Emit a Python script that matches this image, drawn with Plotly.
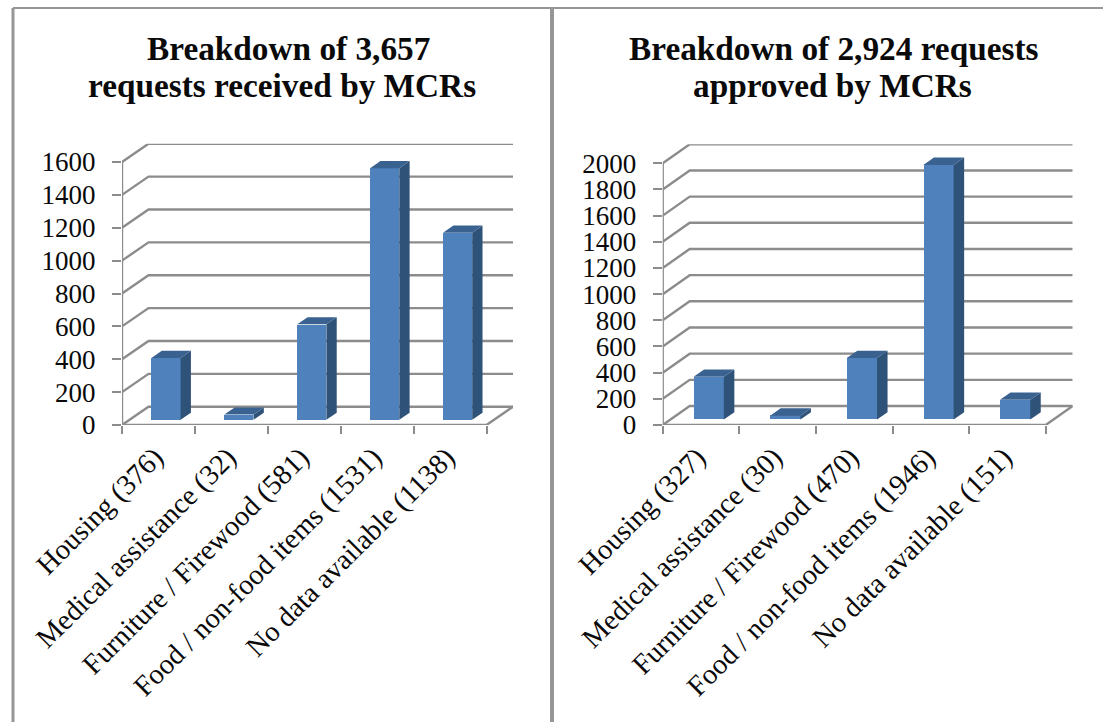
import plotly.graph_objects as go

# Request categories and counts for each panel
categories_received = ["Housing (376)", "Medical assistance (32)", "Furniture / Firewood (581)",
                       "Food / non-food items (1531)", "No data available (1138)"]
values_received = [376, 32, 581, 1531, 1138]
ticks_received = [0, 200, 400, 600, 800, 1000, 1200, 1400, 1600]

categories_approved = ["Housing (327)", "Medical assistance (30)", "Furniture / Firewood (470)",
                       "Food / non-food items (1946)", "No data available (151)"]
values_approved = [327, 30, 470, 1946, 151]
ticks_approved = [0, 200, 400, 600, 800, 1000, 1200, 1400, 1600, 1800, 2000]

title_received = ["Breakdown of 3,657", "requests received by MCRs"]
title_approved = ["Breakdown of 2,924 requests", "approved by MCRs"]

W, H = 1103, 722
FONT = "Liberation Serif"
INK = "#0a0a0a"
GREY = "#8c8c8c"
FRONT, SIDE, TOP = "#4f81bd", "#2f5279", "#3a6291"


def px_x(p):
    return p / W


def px_y(p):
    return 1 - p / H


fig = go.Figure()
layout = dict(
    template="none",
    width=W, height=H, margin=dict(l=0, r=0, t=0, b=0, pad=0, autoexpand=False),
    paper_bgcolor="white", plot_bgcolor="rgba(0,0,0,0)", showlegend=False,
    font=dict(family=FONT, color=INK),
    bargap=0,
)


def panel(cats, vals, ticks, title, title_xs, left, slot, wall_dx, wall_dy, y_top,
          bar_frac, ax_suffixes):
    """Draw one pseudo-3D column panel. left/y_top are the front-plane pixel anchors."""
    base_y = 425
    n = len(cats)
    ymax = ticks[-1]
    ux = 1 / slot                           # categories per pixel
    uy = ymax / (base_y - y_top)            # value units per pixel
    dx, dy = wall_dx * ux, wall_dy * uy     # full floor depth in axis units
    right = left + n * slot + wall_dx
    top = y_top - wall_dy

    xa, ya, xo = ax_suffixes
    xref, yref, xoref = f"x{xa}", f"y{ya}", f"x{xo}"
    layout[f"xaxis{xa}"] = dict(
        domain=[px_x(left), px_x(right)], range=[0, n + dx], anchor=yref, tickmode="array",
        tickvals=list(range(n + 1)), showticklabels=False, ticks="outside", ticklen=8,
        tickwidth=2, tickcolor=GREY, showgrid=False, zeroline=False, showline=False,
        automargin=False,
    )
    layout[f"yaxis{ya}"] = dict(
        domain=[px_y(base_y), px_y(top)], range=[0, ymax + dy], anchor=xref, tickmode="array",
        tickvals=ticks, ticks="outside", ticklen=9, tickwidth=2, tickcolor=GREY,
        showgrid=False, zeroline=False, showline=False, ticklabelstandoff=11, automargin=False,
        tickfont=dict(family=FONT, size=27, color=INK),
    )
    layout[f"xaxis{xo}"] = dict(
        domain=[px_x(left), px_x(right)], range=[0, n + dx], anchor=yref, overlaying=xref,
        tickmode="array", tickvals=[i + 0.45 for i in range(n)], ticktext=cats, tickangle=-45,
        ticks="", showgrid=False, zeroline=False, showline=False, ticklabelstandoff=9,
        automargin=False, tickfont=dict(family=FONT, size=28.5, color=INK),
    )

    line = dict(color=GREY, width=2.4)

    def seg(xs, ys):
        fig.add_trace(go.Scatter(x=xs, y=ys, mode="lines", line=line, xaxis=xref, yaxis=yref,
                                 hoverinfo="skip"))

    # Wall gridlines and side-wall diagonals, one per tick value
    for t in ticks:
        seg([0, dx, n + dx], [t, t + dy, t + dy])
    seg([0, 0], [0, ymax])
    seg([0, n, n + dx], [0, 0, dy])

    # Columns stand part-way back on the floor
    d0, d1 = 0.285, 0.675
    x_off = d0 * dx
    y_off = d0 * dy
    depth_x = (d1 - d0) * dx
    depth_y = (d1 - d0) * dy
    pos = [i + 0.5 + x_off for i in range(n)]
    half = bar_frac / 2
    fig.add_trace(go.Bar(x=pos, y=vals, base=[y_off] * n, width=[bar_frac] * n, xaxis=xoref,
                         yaxis=yref, marker=dict(color=FRONT, line=dict(width=0)),
                         name=title[0]))
    for p, v in zip(pos, vals):
        l, r = p - half, p + half
        b, t = y_off, y_off + v
        fig.add_trace(go.Scatter(
            x=[r, r + depth_x, r + depth_x, r, r], y=[b, b + depth_y, t + depth_y, t, b],
            mode="lines", fill="toself", fillcolor=SIDE, line=dict(width=0), xaxis=xoref,
            yaxis=yref, hoverinfo="skip"))
        fig.add_trace(go.Scatter(
            x=[l, r, r + depth_x, l + depth_x, l], y=[t, t, t + depth_y, t + depth_y, t],
            mode="lines", fill="toself", fillcolor=TOP, line=dict(width=0), xaxis=xoref,
            yaxis=yref, hoverinfo="skip"))

    # Two-line heading, set as separate lines to hold a tight leading
    return [dict(text=txt, x=px_x(tx), y=px_y(base), xref="paper", yref="paper",
                 xanchor="center", yanchor="middle", showarrow=False, align="center",
                 font=dict(family=FONT, size=33.3, color=INK, weight="bold"))
            for txt, tx, base in zip(title, title_xs, (48, 86))]


a1 = panel(categories_received, values_received, ticks_received, title_received, (288, 281.5),
           122, 72.9, 26.5, 18.3, 162, 0.40, ("", "", "3"))
a2 = panel(categories_approved, values_approved, ticks_approved, title_approved, (833.5, 832),
           662.7, 76.6, 27, 19, 163.3, 0.395, ("2", "2", "4"))
layout["annotations"] = a1 + a2

# Table-style rules around the panels
rule = dict(color="#969696", width=2)
layout["shapes"] = [
    dict(type="line", xref="paper", yref="paper", x0=px_x(13), x1=px_x(13), y0=0, y1=px_y(8),
         line=dict(color="#969696", width=3)),
    dict(type="line", xref="paper", yref="paper", x0=px_x(13), x1=1, y0=px_y(8), y1=px_y(8), line=rule),
    dict(type="line", xref="paper", yref="paper", x0=px_x(552), x1=px_x(552), y0=0, y1=px_y(8),
         line=dict(color="#969696", width=4)),
]

fig.update_layout(**layout)
fig.write_html("out.html")
